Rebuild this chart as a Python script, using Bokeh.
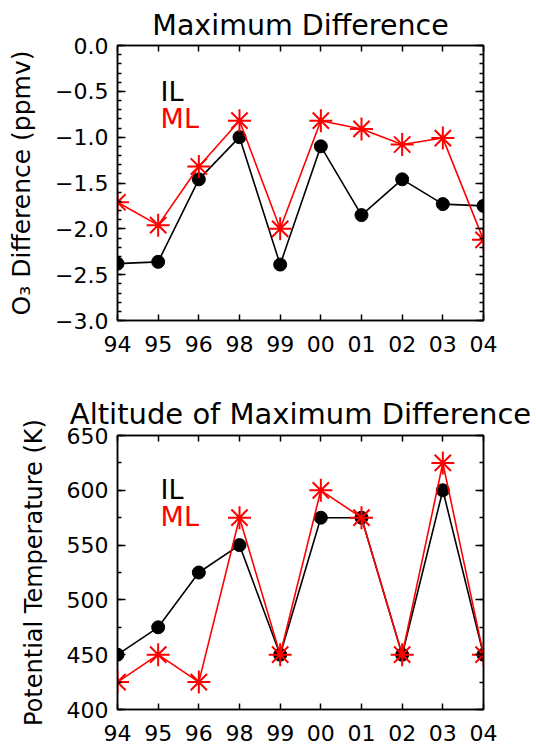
import numpy as np
from bokeh.plotting import figure
from bokeh.models import (FixedTicker, LinearAxis, Label, Range1d, CustomJSTickFormatter)
from bokeh.layouts import column
from bokeh.embed import file_html
from bokeh.resources import INLINE

# ---------------- data ----------------
years = ["94", "95", "96", "98", "99", "00", "01", "02", "03", "04"]

diff_il = [-2.38, -2.36, -1.46, -1.00, -2.39, -1.10, -1.85, -1.46, -1.73, -1.75]
diff_ml = [-1.71, -1.96, -1.32, -0.82, -2.00, -0.82, -0.91, -1.08, -1.01, -2.12]

alt_il = [450, 475, 525, 550, 450, 575, 575, 450, 600, 450]
alt_ml = [425, 450, 425, 575, 450, 600, 575, 450, 625, 450]

diff_ticks = [-3.0, -2.5, -2.0, -1.5, -1.0, -0.5, 0.0]
diff_tick_labels = ["\u22123.0", "\u22122.5", "\u22122.0", "\u22121.5", "\u22121.0", "\u22120.5", "0.0"]
alt_ticks = [400, 450, 500, 550, 600, 650]
alt_tick_labels = ["400", "450", "500", "550", "600", "650"]

titles = ["Maximum Difference", "Altitude of Maximum Difference"]
ylabels = ["O\u2083 Difference (ppmv)", "Potential Temperature (K)"]
legend_names = ["IL", "ML"]

FONT = "DejaVu Sans"
RED = "#ff0000"

xs = list(range(len(years)))


def make_panel(title, ylabel, il, ml, yticks, ylabels_txt, yminor, yr, leg_y,
               top, bottom, ylab_size, title_size, title_standoff):
    p = figure(width=536, height=374, output_backend="svg", toolbar_location=None,
               x_range=Range1d(0, len(years) - 1), y_range=Range1d(*yr),
               min_border_left=117, min_border_right=53,
               min_border_top=top, min_border_bottom=bottom)
    p.xgrid.visible = False
    p.ygrid.visible = False
    p.background_fill_color = "white"
    p.border_fill_color = "white"
    p.outline_line_color = "black"
    p.outline_line_width = 1.5

    p.title.text = title
    p.title.align = "center"
    p.title.text_font = FONT
    p.title.text_font_size = title_size
    p.title.text_font_style = "normal"
    p.title.text_color = "black"
    p.title.standoff = title_standoff

    blank = CustomJSTickFormatter(code="return ''")

    # x axes
    xt = FixedTicker(ticks=xs, minor_ticks=[])
    overrides_x = {i: y for i, y in enumerate(years)}
    xa = p.xaxis[0]
    xa.ticker = xt
    xa.major_label_overrides = overrides_x
    xa.major_tick_in = 6
    xa.major_tick_out = 0
    xa.minor_tick_in = 0
    xa.minor_tick_out = 0
    xa.major_label_text_font = FONT
    xa.major_label_text_font_size = "22px"
    xa.major_label_text_color = "black"
    xa.major_label_standoff = 15
    xa.axis_line_width = 1.5
    xa.major_tick_line_width = 1.5

    xtop = LinearAxis(ticker=xt, formatter=blank, major_tick_in=6, major_tick_out=0,
                      minor_tick_in=0, minor_tick_out=0,
                      axis_line_width=1.5,
                      major_tick_line_width=1.5, major_label_standoff=0)
    p.add_layout(xtop, "above")

    # y axes
    yt = FixedTicker(ticks=yticks, minor_ticks=yminor)
    overrides_y = {t: l for t, l in zip(yticks, ylabels_txt)}
    ya = p.yaxis[0]
    ya.ticker = yt
    ya.major_label_overrides = overrides_y
    ya.major_tick_in = 8
    ya.major_tick_out = 0
    ya.minor_tick_in = 4
    ya.minor_tick_out = 0
    ya.major_label_text_font = FONT
    ya.major_label_text_font_size = "22px"
    ya.major_label_text_color = "black"
    ya.major_label_standoff = 9
    ya.axis_label = ylabel
    ya.axis_label_text_font = FONT
    ya.axis_label_text_font_size = ylab_size
    ya.axis_label_text_font_style = "normal"
    ya.axis_label_text_color = "black"
    ya.axis_label_standoff = 16
    ya.axis_line_width = 1.5
    ya.major_tick_line_width = 1.5
    ya.minor_tick_line_width = 1.5

    yright = LinearAxis(ticker=yt, formatter=blank, major_tick_in=8, major_tick_out=0,
                        minor_tick_in=4, minor_tick_out=0,
                        axis_line_width=1.5,
                        major_tick_line_width=1.5, minor_tick_line_width=1.5,
                        major_label_standoff=0)
    p.add_layout(yright, "right")

    # data
    p.line(xs, il, line_color="black", line_width=1.6)
    p.scatter(xs, il, marker="circle", size=13, fill_color="black", line_color="black")
    p.line(xs, ml, line_color=RED, line_width=1.6)
    p.scatter(xs, ml, marker="asterisk", size=23, line_color=RED, line_width=2)

    # legend texts
    for name, col, yy in zip(legend_names, ["black", RED], leg_y):
        p.add_layout(Label(x=1.06, y=yy, text=name, text_color=col,
                           text_font=FONT, text_font_size="27px",
                           text_baseline="alphabetic", text_align="left"))
    return p


p1 = make_panel(titles[0], ylabels[0], diff_il, diff_ml, diff_ticks, diff_tick_labels,
                list(np.round(np.arange(-3.0, 0.001, 0.1), 2)), (-3.0, 0.0),
                [-0.50, -0.80], top=45, bottom=54, ylab_size="25px",
                title_size="28.5px", title_standoff=8)
p2 = make_panel(titles[1], ylabels[1], alt_il, alt_ml, alt_ticks, alt_tick_labels,
                list(range(400, 651, 25)), (400, 650),
                [600.7, 575.7], top=61, bottom=39, ylab_size="24px",
                title_size="29px", title_standoff=9)

layout = column(p1, p2, spacing=0)
open("out.html", "w").write(file_html(layout, INLINE))
